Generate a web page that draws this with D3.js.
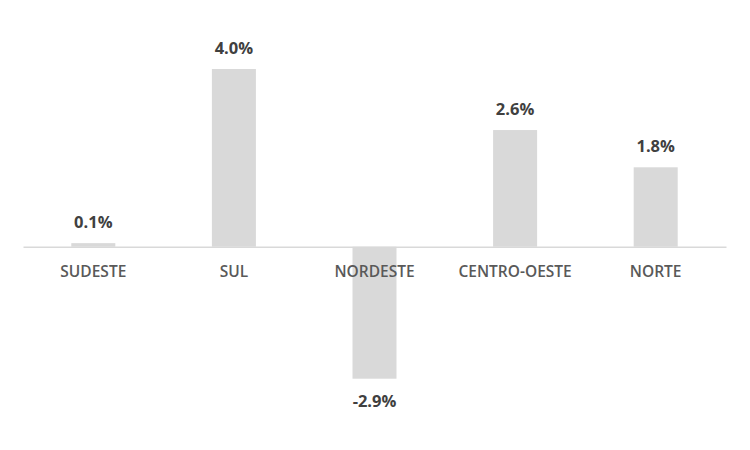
<!DOCTYPE html>
<html>
<head>
<meta charset="utf-8">
<script src="https://cdn.jsdelivr.net/npm/d3@7"></script>
<style>
  html, body { margin: 0; padding: 0; background: #fff; }
  svg { display: block; }
</style>
</head>
<body>
<svg id="chart" width="750" height="450"></svg>
<script>
const categories = ["SUDESTE", "SUL", "NORDESTE", "CENTRO-OESTE", "NORTE"];
const values = [0.08, 3.96, -2.94, 2.6, 1.77];
const valueLabels = ["0.1%", "4.0%", "-2.9%", "2.6%", "1.8%"];

const svg = d3.select("#chart");
const fontFamily = "'Open Sans', 'Liberation Sans', sans-serif";

const x = d3.scaleBand()
  .domain(categories)
  .range([23, 726])
  .paddingInner(0.687)
  .paddingOuter(0.3435);

const y = d3.scaleLinear()
  .domain([-2.94, 3.96])
  .range([378.7, 69]);

const y0 = y(0);

// bars
svg.append("g").selectAll("rect")
  .data(values)
  .join("rect")
  .attr("x", (d, i) => x(categories[i]))
  .attr("width", x.bandwidth())
  .attr("y", d => Math.min(y(d), y0))
  .attr("height", d => Math.abs(y(d) - y0))
  .attr("fill", "#d9d9d9");

// axis line at zero
const axis = d3.axisBottom(x).tickSize(0).tickPadding(0);
const gAxis = svg.append("g")
  .attr("transform", `translate(0,${y0})`)
  .call(axis);
gAxis.select(".domain").attr("stroke", "#d9d9d9").attr("stroke-width", 1.3);
gAxis.selectAll("text")
  .attr("dy", null)
  .attr("y", 30)
  .attr("fill", "#595959")
  .style("font-family", fontFamily)
  .style("font-size", "15.5px")
  .style("font-weight", "600");

// value labels
svg.append("g").selectAll("text")
  .data(values)
  .join("text")
  .attr("x", (d, i) => x(categories[i]) + x.bandwidth() / 2)
  .attr("y", d => d >= 0 ? y(d) - 15.5 : y(d) + 28)
  .attr("text-anchor", "middle")
  .attr("fill", "#404040")
  .style("font-family", fontFamily)
  .style("font-size", "16.5px")
  .style("font-weight", "bold")
  .text((d, i) => valueLabels[i]);
</script>
</body>
</html>
